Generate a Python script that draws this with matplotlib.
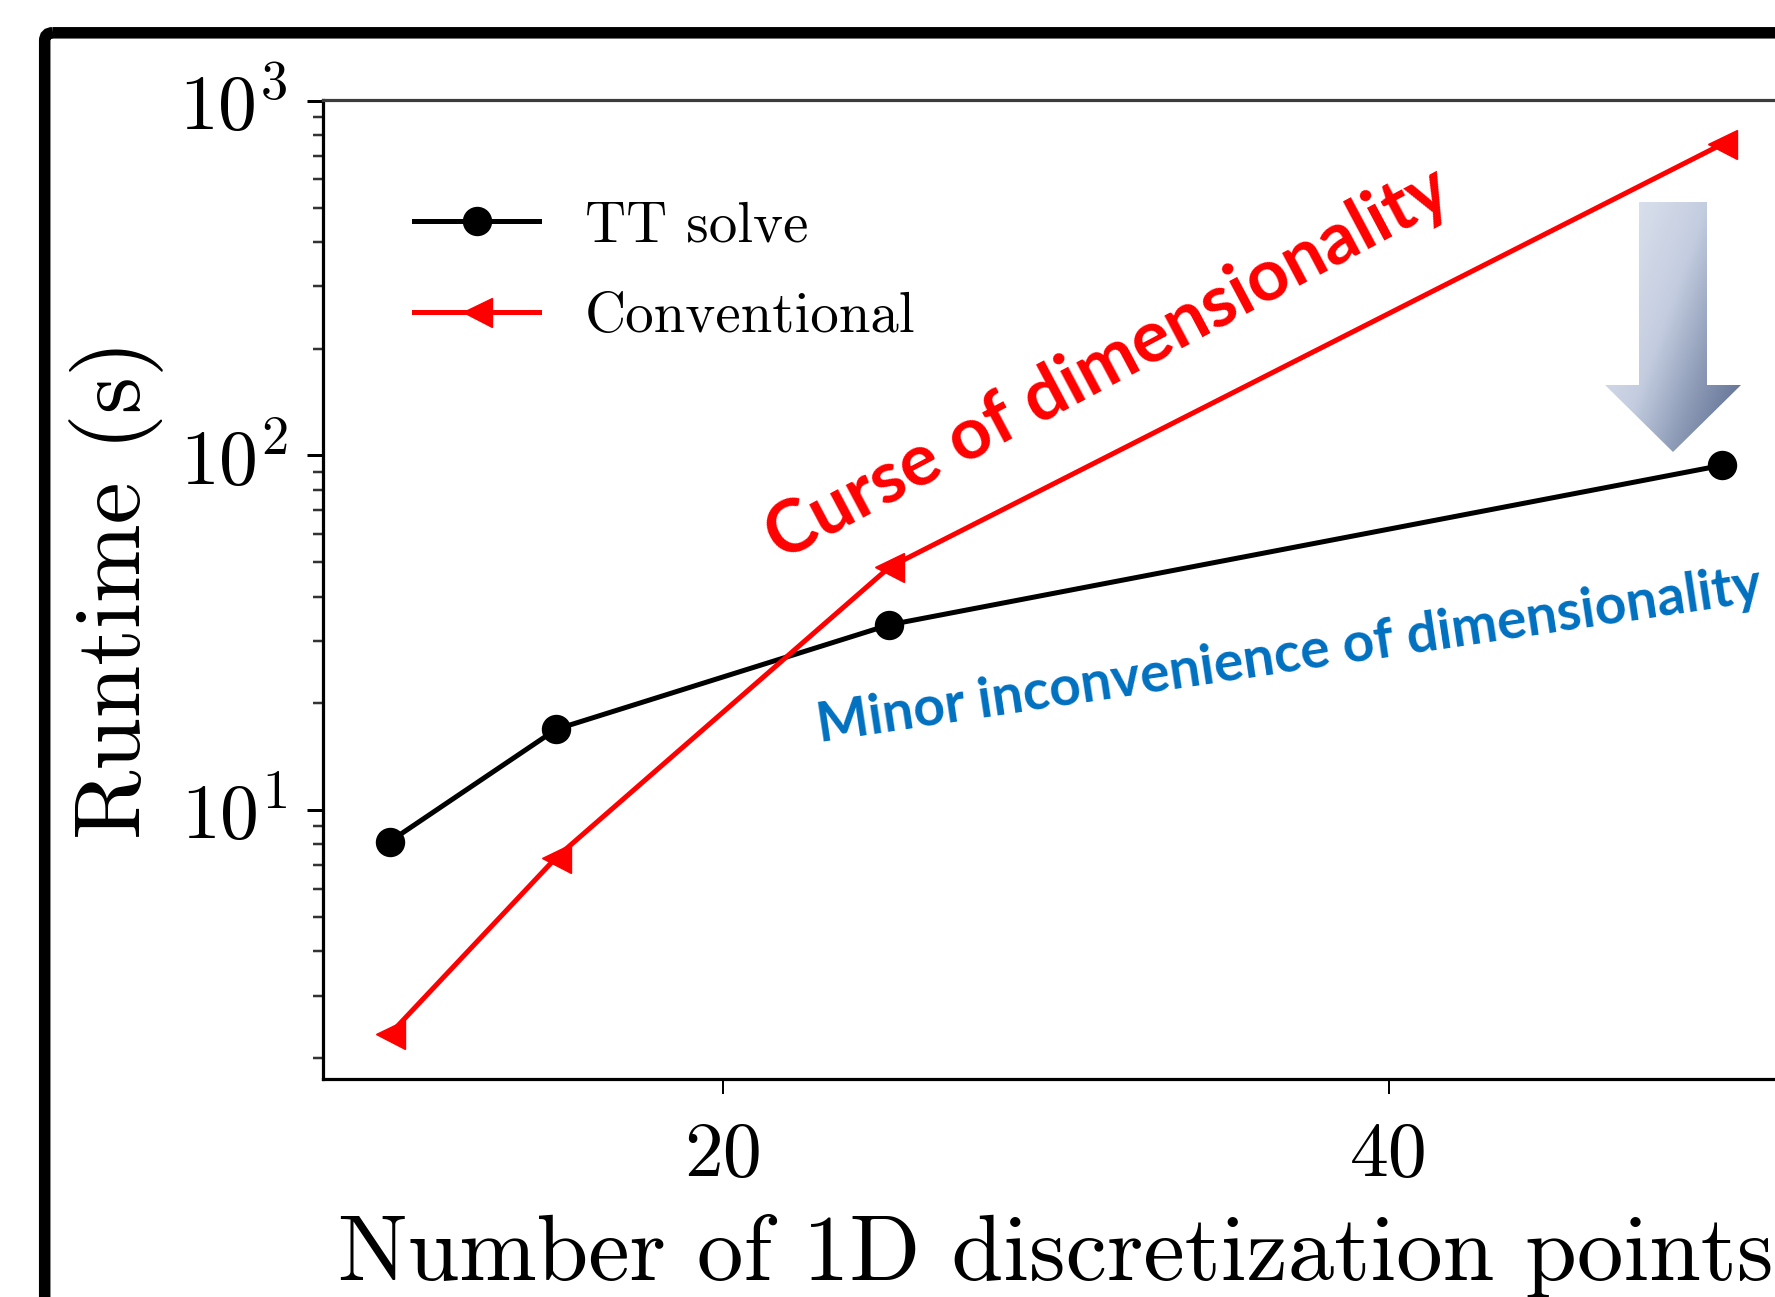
import numpy as np
import matplotlib
matplotlib.use('Agg')
import matplotlib.pyplot as plt
from matplotlib.patches import FancyBboxPatch, Polygon
from matplotlib.colors import LinearSegmentedColormap

# ---------------- data ----------------
n_points = [10, 15, 25, 50]
tt_runtime = [8.15, 16.9, 33.3, 93.8]
conv_runtime = [2.33, 7.35, 48.4, 755]
series_labels = ['TT solve', 'Conventional']
x_ticks = [20, 40]
x_ticklabels = ['20', '40']
x_label = 'Number of 1D discretization points'
y_label = 'Runtime (s)'
curse_text = 'Curse of dimensionality'
minor_text = 'Minor inconvenience of dimensionality'

# ---------------- figure ----------------
W, H = 1775, 1297
DPI = 100
PX = 72.0 / DPI  # points per pixel

plt.rcParams.update({
    'font.family': 'serif',
    'font.serif': ['cmr10'],
    'mathtext.fontset': 'cm',
    'axes.formatter.use_mathtext': True,
    'axes.unicode_minus': False,
})

fig = plt.figure(figsize=(W / DPI, H / DPI), dpi=DPI)
fig.patch.set_facecolor('white')


def fx(px):
    return px / W


def fy(py):
    return 1 - py / H


ax_l, ax_r, ax_t, ax_b = 323, 1789, 99.5, 1079
ax = fig.add_axes([fx(ax_l), fy(ax_b), (ax_r - ax_l) / W, (ax_b - ax_t) / H])
ax.set_yscale('log')
ax.plot(n_points, tt_runtime, '-o', color='black', lw=5 * PX, ms=28 * PX,
        label=series_labels[0])
ax.plot(n_points, conv_runtime, '-<', color='#ff0000', lw=5 * PX, ms=29 * PX,
        label=series_labels[1])
ax.set_xlim(8, 52)

ax.set_xticks(x_ticks)
ax.set_xticklabels(x_ticklabels)
ax.tick_params(axis='x', which='major', length=15 * PX, width=2 * PX,
               labelsize=56, pad=20)
ax.tick_params(axis='y', which='major', length=16 * PX, width=3 * PX,
               labelsize=56, pad=14)
ax.tick_params(axis='y', which='minor', length=10 * PX, width=2.5 * PX,
               color='#333333')
for s in ax.spines.values():
    s.set_linewidth(3.2 * PX)
ax.spines['top'].set_color('#3c3c3c')

ax.set_xlabel(x_label, fontsize=67, labelpad=16.5)
ax.set_ylabel(y_label, fontsize=68, labelpad=11)

leg = ax.legend(loc='center left', bbox_to_anchor=(fx(414), fy(272)),
                bbox_transform=fig.transFigure, frameon=False, borderpad=0,
                borderaxespad=0, fontsize=41, handlelength=2.2,
                handletextpad=0.8, labelspacing=0.7)

# ---------------- overlay (frame, arrow, annotations) ----------------
ov = fig.add_axes([0, 0, 1, 1], zorder=10)
ov.set_xlim(0, W)
ov.set_ylim(H, 0)
ov.axis('off')
ov.patch.set_alpha(0)

frame = FancyBboxPatch((44.7, 32.8), 1900, 1500,
                       boxstyle='round,pad=0,rounding_size=8',
                       fill=False, ec='black', lw=11.5 * PX)
ov.add_patch(frame)

arrow_xy = [(1639, 202), (1707, 202), (1707, 385), (1741, 385),
            (1673, 452), (1605, 385), (1639, 385)]
arrow = Polygon(arrow_xy, closed=True, fc='none', ec='none')
ov.add_patch(arrow)
gx0, gx1, gy0, gy1 = 1600, 1745, 198, 456
gxs = np.linspace(gx0, gx1, 150)
gys = np.linspace(gy0, gy1, 260)
GX, GY = np.meshgrid(gxs, gys)
T = 0.6 * (GX - 1605) / 136 + 0.4 * (GY - 202) / 250
T = np.clip(T, 0, 1)
cmap = LinearSegmentedColormap.from_list(
    'arr', [(0, '#e3e8f1'), (0.45, '#c4cde0'), (0.7, '#8c9ab6'), (1, '#56658a')])
im = ov.imshow(T, cmap=cmap, vmin=0, vmax=1, extent=(gx0, gx1, gy1, gy0),
               origin='upper', interpolation='bilinear', aspect='auto', zorder=5)
im.set_clip_path(arrow)
ov.set_xlim(0, W)
ov.set_ylim(H, 0)

t1 = ov.text(1108, 364, curse_text, color='#ff0000', family='Lato',
             fontweight='bold', fontsize=50, rotation=28,
             ha='center', va='center', zorder=6)
t2 = ov.text(1289, 656, minor_text, color='#0070c0', family='Lato',
             fontweight='bold', fontsize=40, rotation=8.5,
             ha='center', va='center', zorder=6)

fig.canvas.draw()
r = fig.canvas.get_renderer()
for t, target in ((t1, 706), (t2, 950)):
    bb = t.get_window_extent(r)
    t.set_fontsize(t.get_fontsize() * target / bb.width)

fig.savefig('out.png', dpi=DPI)
